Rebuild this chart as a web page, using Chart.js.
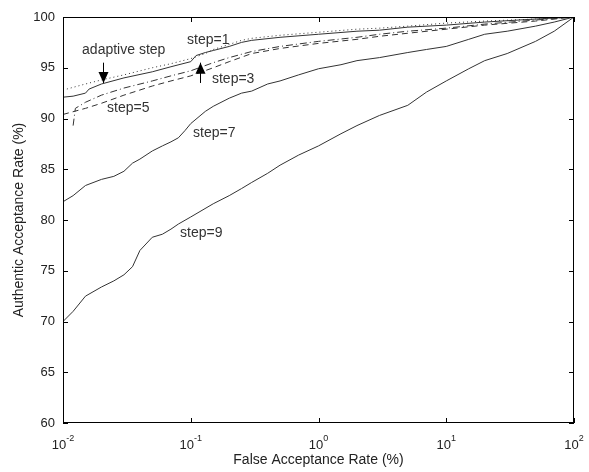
<!DOCTYPE html>
<html>
<head>
<meta charset="utf-8">
<script src="https://cdn.jsdelivr.net/npm/chart.js@4/dist/chart.umd.min.js"></script>
<style>
  body { margin: 0; background: #fff; }
  #wrap { width: 589px; height: 472px; }
</style>
</head>
<body>
<div id="wrap"><canvas id="roc"></canvas></div>
<script>
"use strict";

// false acceptance rate (%) / authentic acceptance rate (%)
const farStep1 = [0.01, 0.015, 0.02, 0.03, 0.05, 0.07, 0.1, 0.13, 0.15, 0.2, 0.25, 0.3, 0.5, 1, 2, 3, 5, 10, 20, 50, 100];
const aarStep1 = [92.8, 93.4, 93.8, 94.3, 95.0, 95.4, 95.9, 96.4, 96.8, 97.3, 97.7, 97.9, 98.2, 98.5, 98.8, 98.9, 99.1, 99.4, 99.6, 99.8, 100];

const farAdaptive = [0.01, 0.012, 0.015, 0.016, 0.02, 0.03, 0.05, 0.07, 0.1, 0.11, 0.13, 0.15, 0.2, 0.25, 0.3, 0.5, 1, 2, 3, 5, 10, 20, 50, 100];
const aarAdaptive = [92.1, 92.2, 92.5, 92.9, 93.4, 94.0, 94.6, 95.1, 95.6, 96.2, 96.5, 96.7, 97.1, 97.5, 97.7, 98.0, 98.3, 98.6, 98.7, 99.0, 99.2, 99.5, 99.8, 100];

const farStep3 = [0.012, 0.0125, 0.015, 0.02, 0.03, 0.05, 0.07, 0.1, 0.15, 0.2, 0.3, 0.5, 1, 2, 3, 5, 10, 20, 50, 100];
const aarStep3 = [89.3, 91.0, 91.6, 92.3, 93.0, 93.7, 94.2, 94.7, 95.5, 96.0, 96.6, 97.1, 97.6, 98.0, 98.3, 98.6, 98.9, 99.3, 99.7, 100];

const farStep5 = [0.01, 0.015, 0.02, 0.03, 0.05, 0.07, 0.1, 0.15, 0.2, 0.3, 0.5, 1, 2, 3, 5, 10, 20, 50, 100];
const aarStep5 = [90.4, 91.0, 91.5, 92.3, 93.2, 93.7, 94.2, 95.0, 95.6, 96.4, 96.9, 97.4, 97.8, 98.1, 98.4, 98.8, 99.2, 99.6, 100];

const farStep7 = [0.01, 0.012, 0.015, 0.02, 0.025, 0.03, 0.035, 0.04, 0.05, 0.06, 0.07, 0.08, 0.09, 0.1, 0.13, 0.15, 0.2, 0.25, 0.3, 0.4, 0.5, 0.7, 1, 1.5, 2, 3, 5, 7, 10, 15, 20, 30, 50, 70, 100];
const aarStep7 = [81.8, 82.4, 83.4, 84.0, 84.3, 84.8, 85.6, 86.0, 86.8, 87.3, 87.7, 88.1, 88.8, 89.5, 90.7, 91.2, 92.0, 92.5, 92.7, 93.4, 93.7, 94.3, 94.9, 95.3, 95.7, 96.0, 96.5, 96.8, 97.1, 97.8, 98.3, 98.6, 99.1, 99.5, 100];

const farStep9 = [0.01, 0.012, 0.015, 0.02, 0.025, 0.03, 0.035, 0.04, 0.05, 0.06, 0.07, 0.08, 0.1, 0.15, 0.2, 0.25, 0.3, 0.4, 0.5, 0.7, 1, 1.5, 2, 3, 5, 7, 10, 15, 20, 30, 50, 70, 100];
const aarStep9 = [70.0, 71.0, 72.5, 73.4, 74.0, 74.6, 75.4, 77.0, 78.3, 78.6, 79.1, 79.6, 80.3, 81.6, 82.4, 83.1, 83.7, 84.6, 85.4, 86.4, 87.3, 88.5, 89.3, 90.3, 91.3, 92.6, 93.7, 94.9, 95.7, 96.4, 97.6, 98.6, 100];

const xTickExps = [-2, -1, 0, 1, 2];
const yTicks = [60, 65, 70, 75, 80, 85, 90, 95, 100];

// text labels on the plot, placed in data coordinates
const curveLabels = [
  { text: 'step=1', x: 0.0935, y: 97.7 },
  { text: 'adaptive step', x: 0.0141, y: 96.75 },
  { text: 'step=3', x: 0.1466, y: 93.9 },
  { text: 'step=5', x: 0.0221, y: 91.0 },
  { text: 'step=7', x: 0.1043, y: 88.6 },
  { text: 'step=9', x: 0.0824, y: 78.7 }
];
const arrows = [
  { x: 0.0206, from: 95.5, to: 93.5 },
  { x: 0.118, from: 93.5, to: 95.5 }
];

const ink = '#222';
const lineInk = '#333';
const FONT = '"Liberation Sans", Arial, sans-serif';

function toPoints(xs, ys) {
  return xs.map((x, i) => ({ x: x, y: ys[i] }));
}

function series(label, xs, ys, dash) {
  return {
    label: label,
    data: toPoints(xs, ys),
    showLine: true,
    borderColor: lineInk,
    borderWidth: 1,
    borderDash: dash,
    pointRadius: 0,
    tension: 0
  };
}

const matlabFrame = {
  id: 'matlabFrame',
  afterDraw(chart) {
    const ctx = chart.ctx;
    const a = chart.chartArea;
    const xs = chart.scales.x;
    const ys = chart.scales.y;
    ctx.save();

    // box + inward ticks
    ctx.strokeStyle = '#000';
    ctx.lineWidth = 1;
    ctx.strokeRect(a.left + 0.5, a.top + 0.5, a.right - a.left - 1, a.bottom - a.top - 1);
    ctx.beginPath();
    yTicks.forEach(v => {
      const py = Math.round(ys.getPixelForValue(v)) + 0.5;
      ctx.moveTo(a.left, py); ctx.lineTo(a.left + 5, py);
      ctx.moveTo(a.right, py); ctx.lineTo(a.right - 5, py);
    });
    xTickExps.forEach(e => {
      const px = Math.round(xs.getPixelForValue(Math.pow(10, e))) + 0.5;
      ctx.moveTo(px, a.bottom); ctx.lineTo(px, a.bottom - 5);
      ctx.moveTo(px, a.top); ctx.lineTo(px, a.top + 5);
    });
    ctx.stroke();

    // x tick labels as 10^n
    ctx.fillStyle = ink;
    ctx.textBaseline = 'alphabetic';
    ctx.textAlign = 'left';
    xTickExps.forEach(e => {
      const px = xs.getPixelForValue(Math.pow(10, e));
      ctx.font = '13px ' + FONT;
      const wBase = ctx.measureText('10').width;
      ctx.font = '9px ' + FONT;
      const wExp = ctx.measureText(String(e)).width;
      const left = px - (wBase + wExp) / 2;
      ctx.font = '13px ' + FONT;
      ctx.fillText('10', left, a.bottom + 26);
      ctx.font = '9px ' + FONT;
      ctx.fillText(String(e), left + wBase, a.bottom + 18);
    });

    // curve labels
    ctx.font = '14px ' + FONT;
    ctx.fillStyle = lineInk;
    ctx.textBaseline = 'middle';
    curveLabels.forEach(l => {
      ctx.fillText(l.text, xs.getPixelForValue(l.x), ys.getPixelForValue(l.y));
    });

    // arrows
    ctx.strokeStyle = '#000';
    ctx.fillStyle = '#000';
    arrows.forEach(ar => {
      const px = Math.round(xs.getPixelForValue(ar.x)) + 0.5;
      const y0 = ys.getPixelForValue(ar.from);
      const y1 = ys.getPixelForValue(ar.to);
      const dir = y1 > y0 ? 1 : -1;
      ctx.beginPath();
      ctx.moveTo(px, y0);
      ctx.lineTo(px, y1);
      ctx.stroke();
      ctx.beginPath();
      ctx.moveTo(px, y1);
      ctx.lineTo(px - 5, y1 - dir * 11);
      ctx.lineTo(px + 5, y1 - dir * 11);
      ctx.closePath();
      ctx.fill();
    });

    ctx.restore();
  }
};

const chart = new Chart(document.getElementById('roc'), {
  type: 'scatter',
  data: {
    datasets: [
      series('step=1', farStep1, aarStep1, [1, 3]),
      series('adaptive step', farAdaptive, aarAdaptive, []),
      series('step=3', farStep3, aarStep3, [7, 3, 1, 3]),
      series('step=5', farStep5, aarStep5, [6, 4]),
      series('step=7', farStep7, aarStep7, []),
      series('step=9', farStep9, aarStep9, [])
    ]
  },
  options: {
    responsive: true,
    maintainAspectRatio: false,
    animation: false,
    layout: { padding: { top: 17, right: 15, left: 0, bottom: 0 } },
    plugins: {
      legend: { display: false },
      tooltip: { enabled: false }
    },
    scales: {
      x: {
        type: 'logarithmic',
        min: 0.01,
        max: 100,
        grid: { display: false, drawTicks: false },
        border: { display: false },
        ticks: { display: false },
        title: {
          display: true,
          text: 'False Acceptance Rate (%)',
          color: ink,
          font: { family: FONT, size: 14 },
          padding: { top: 0, bottom: 3 }
        },
        afterFit(scale) { scale.height = 49; }
      },
      y: {
        min: 60,
        max: 100,
        grid: { display: false, drawTicks: false },
        border: { display: false },
        ticks: {
          stepSize: 5,
          color: ink,
          padding: 8,
          font: { family: FONT, size: 13 }
        },
        title: {
          display: true,
          text: 'Authentic Acceptance Rate (%)',
          color: ink,
          font: { family: FONT, size: 14 },
          padding: { top: 11, bottom: 0 }
        },
        afterFit(scale) { scale.width = 63; }
      }
    }
  },
  plugins: [matlabFrame]
});
</script>
</body>
</html>
